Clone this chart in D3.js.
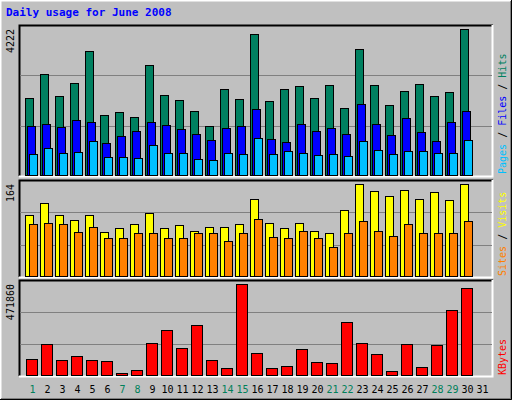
<!DOCTYPE html>
<html><head><meta charset="utf-8">
<script src="https://cdn.jsdelivr.net/npm/d3@7"></script>
<style>body{margin:0;background:#fff}svg{display:block}</style>
</head><body>
<script>
const days = d3.range(1, 32);
const weekendDays = [1,7,8,14,15,21,22,28,29];
const hits  = [2232,2921,2289,2662,3581,1743,1829,1686,3179,2318,2174,1858,1427,2490,2203,4070,2145,2490,2576,2232,2605,1944,3639,2605,2030,2433,2634,2289,2404,4222,0];
const files = [1427,1485,1399,1600,1542,939,1140,1284,1542,1456,1341,1198,1025,1370,1427,1916,1054,968,1485,1284,1370,1198,2059,1485,1169,1657,1255,997,1542,1858,0];
const pages = [623,796,652,681,997,537,537,508,882,652,652,480,451,652,623,1083,623,709,652,594,623,566,997,738,623,709,709,652,652,1025,0];
const visits = [109,130,109,100,109,80,86,93,112,87,91,82,89,89,94,137,96,87,96,82,78,118,164,151,143,153,137,150,135,164,0];
const sites  = [93,96,94,80,89,68,68,78,78,68,69,77,78,64,78,102,71,69,82,69,53,77,98,82,73,93,77,77,78,98,0];
const kbytes = [88128,165888,82944,103680,82944,77760,15552,31104,171072,238464,145152,259200,82944,41472,471860,119232,41472,51840,139968,72576,67392,274752,171072,114048,25920,165888,46656,160704,336960,451008,0];
const maxLabels = ["4222","164","471860"];

const W=512,H=400;
const svg=d3.select("body").append("svg").attr("width",W).attr("height",H);
const font="'DejaVu Sans Mono', monospace";
svg.append("rect").attr("width",W).attr("height",H).attr("fill","#c0c0c0");
svg.append("path").attr("d",`M0.5,${H-0.5}V0.5H${W-0.5}`).attr("stroke","#fff").attr("stroke-width",2).attr("fill","none");
svg.append("path").attr("d",`M1,${H-1}H${W-1}V1`).attr("stroke","#808080").attr("stroke-width",2).attr("fill","none");
svg.append("path").attr("d",`M0,${H-0.5}H${W-0.5}V0`).attr("stroke","#000").attr("fill","none");

svg.append("text").attr("x",6).attr("y",16).attr("font-family",font).attr("font-weight","bold")
  .attr("font-size",11).attr("fill","#0000ff").text("Daily usage for June 2008");

const x=d3.scaleBand().domain(days).range([25,490]).padding(0);
const bw=x.bandwidth();
const L=19,R=493;
const panels=[{top:25,bot:176},{top:180,bot:277},{top:280,bot:376}];
panels.forEach(p=>{
  svg.append("rect").attr("x",L).attr("y",p.top).attr("width",R-L).attr("height",p.bot-p.top).attr("fill","#c0c0c0");
  svg.append("path").attr("d",`M${L+0.5},${p.bot}V${p.top+0.5}H${R}`).attr("stroke","#000").attr("stroke-width",2).attr("fill","none");
  svg.append("path").attr("d",`M${L},${p.bot+0.5}H${R-0.5}V${p.top}`).attr("stroke","#fff").attr("stroke-width",2).attr("fill","none");
});

function panel(pi,maxV,series){
  const p=panels[pi];
  const ymaxPix=[29,184,284][pi];
  const y=d3.scaleLinear().domain([0,maxV]).range([p.bot,ymaxPix]);
  const k=(p.bot-p.top)/(p.bot-ymaxPix);
  const gridV=[maxV/3*k,maxV*2/3*k];
  svg.append("g").selectAll("line").data(gridV).join("line")
    .attr("x1",L+1).attr("x2",R-1).attr("y1",d=>Math.round(y(d))+0.5).attr("y2",d=>Math.round(y(d))+0.5)
    .attr("stroke","#808080");
  series.forEach(s=>{
    svg.append("g").selectAll("rect").data(days.map((d,i)=>({d,v:s.vals[i]})).filter(o=>o.v>0)).join("rect")
      .attr("x",o=>Math.round(x(o.d)+s.off*bw)+0.5).attr("width",Math.round(s.w*bw))
      .attr("y",o=>Math.round(y(o.v))+0.5).attr("height",o=>p.bot-Math.round(y(o.v))-1)
      .attr("fill",s.color).attr("stroke","#000").attr("stroke-width",1);
  });
  svg.append("text").attr("transform",`translate(14,${ymaxPix}) rotate(-90)`).attr("text-anchor","end")
    .attr("font-family",font).attr("font-size",10).attr("fill","#000").text(maxLabels[pi]);
}
panel(0,4222,[{vals:hits,off:0,w:0.5,color:"#008060"},{vals:files,off:0.13,w:0.55,color:"#0000ff"},{vals:pages,off:0.27,w:0.52,color:"#00c0ff"}]);
panel(1,164,[{vals:visits,off:0,w:0.56,color:"#ffff00"},{vals:sites,off:0.27,w:0.52,color:"#ff8000"}]);
panel(2,471860,[{vals:kbytes,off:0.07,w:0.7,color:"#ff0000"}]);

svg.append("g").selectAll("text").data(days).join("text")
  .attr("x",d=>x(d)+bw/2).attr("y",393).attr("text-anchor","middle")
  .attr("font-family",font).attr("font-size",10)
  .attr("fill",d=>weekendDays.includes(d)?"#00805a":"#000").text(d=>d);

function legend(yBottom,parts){
  const t=svg.append("text").attr("transform",`translate(506,${yBottom}) rotate(-90)`)
    .attr("font-family",font).attr("font-size",10).attr("xml:space","preserve").style("white-space","pre");
  parts.forEach(([txt,c])=>t.append("tspan").attr("fill",c).text(txt));
}
legend(174,[["Pages","#00c0ff"],[" / ","#000"],["Files","#0000ff"],[" / ","#000"],["Hits","#008060"]]);
legend(276,[["Sites","#ff8000"],[" / ","#000"],["Visits","#ffff00"]]);
legend(375,[["KBytes","#ff0000"]]);
</script>
</body></html>
